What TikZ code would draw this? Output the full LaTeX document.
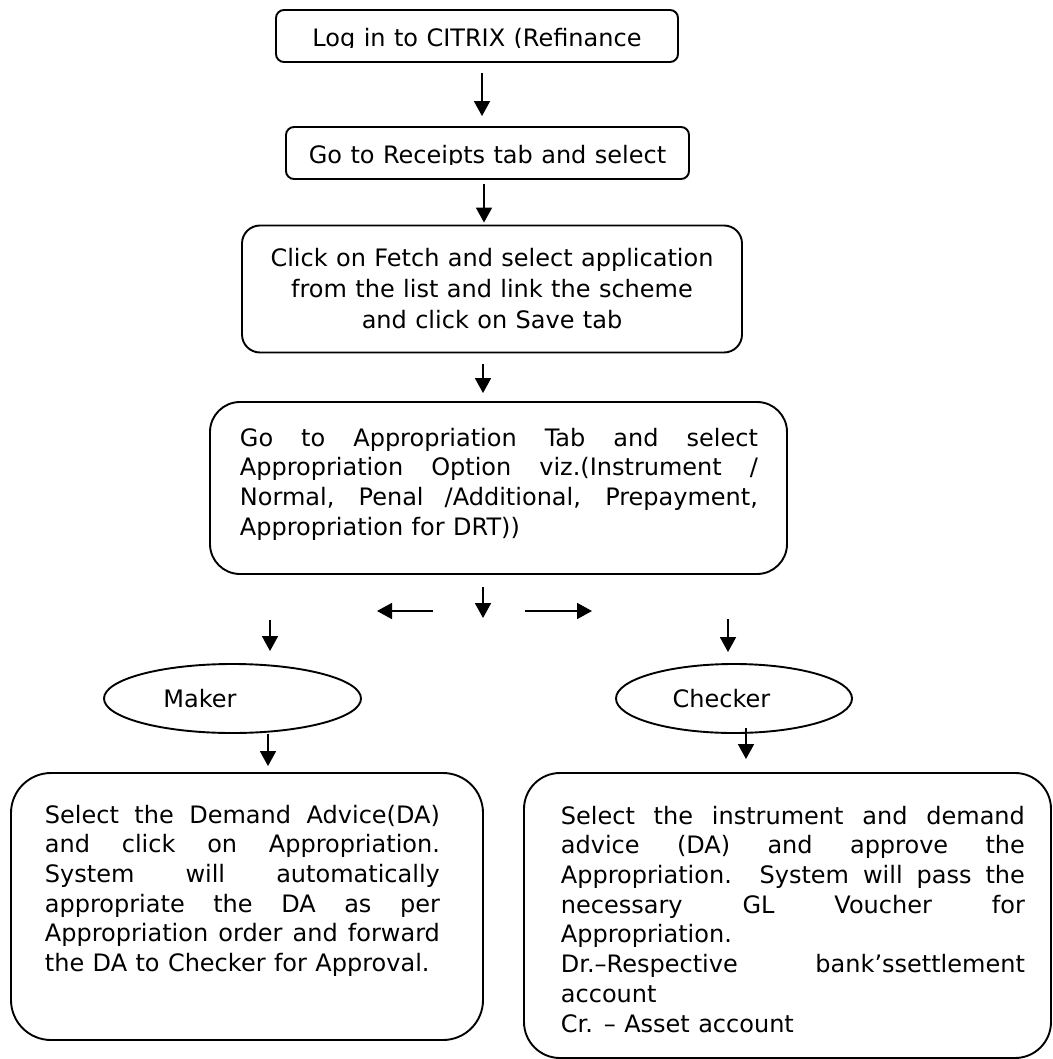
\documentclass[tikz,border=0pt]{standalone}
\usepackage{fontspec}
\setmainfont{DejaVu Sans}[WordSpace=1.1]
\usetikzlibrary{arrows.meta,shapes.geometric}

\begin{document}
\begin{tikzpicture}[x=1pt,y=-1pt,line width=1.8pt,
	block/.style ={rectangle, draw, line width=1.9pt, inner sep=0pt},
	txt/.style ={inner sep=0pt, font=\fontsize{24}{29.7}\selectfont},
	para/.style ={txt, anchor=north west, align=justify, execute at begin node={\tolerance=10000\hyphenpenalty=10000\exhyphenpenalty=10000\parindent=0pt}},
	role/.style ={ellipse, draw, line width=1.9pt, inner sep=0pt, minimum height=69pt, font=\fontsize{24}{29.7}\selectfont},
	arr/.style ={-{Triangle[length=15pt,width=16pt]}, line width=1.8pt}]
	\useasboundingbox (0,0) rectangle (1052,1059);
	\node[block,rounded corners=8pt,minimum width=402pt,minimum height=52pt] (login) at (477,36) {};
	\begin{scope}
		\clip (276,10) rectangle (678,47.5);
		\node[txt,anchor=base] (logintxt) at (477,47) {Log in to CITRIX (Refinance};
	\end{scope}
	\node[block,rounded corners=8pt,minimum width=403pt,minimum height=52pt] (receipts) at (487.5,153) {};
	\begin{scope}
		\clip (286,127) rectangle (689,164.5);
		\node[txt,anchor=base] (receiptstxt) at (487.5,164) {Go to Receipts tab and select};
	\end{scope}
	\node[block,rounded corners=18pt,minimum width=500pt,minimum height=127pt,align=center,font=\fontsize{24}{31}\selectfont] (fetch) at (492,289) {Click on Fetch and select application\\from the list and link the scheme\\and click on Save tab};
	\node[block,rounded corners=30pt,minimum width=577pt,minimum height=172pt] (appr) at (498.5,488) {};
	\node[para,text width=518pt] (apprtxt) at (239,427) {Go to Appropriation Tab and select\linebreak Appropriation Option viz.(Instrument /\linebreak Normal, Penal /Additional, Prepayment,\linebreak Appropriation for DRT))};
	\node[role,minimum width=257pt] (maker) at (232.5,698.5) {Maker\hspace*{65pt}};
	\node[role,minimum width=236pt] (checker) at (734,698.5) {Checker\hspace*{25pt}};
	\node[block,rounded corners=40pt,minimum width=472pt,minimum height=267pt] (makerbox) at (247,906.5) {};
	\node[para,text width=395pt] (makertxt) at (44,804) {Select the Demand Advice(DA)\linebreak and click on Appropriation.\linebreak System will automatically\linebreak appropriate the DA as per\linebreak Appropriation order and forward\linebreak the DA to Checker for Approval.};
	\node[block,rounded corners=36pt,minimum width=527pt,minimum height=285pt] (checkerbox) at (787.5,915.5) {};
	\node[para,text width=464pt] (checkertxt) at (560,805) {Select the instrument and demand\linebreak advice (DA) and approve the\linebreak Appropriation. System will pass the\linebreak necessary GL Voucher for\linebreak Appropriation.\par Dr.–Respective bank’ssettlement\linebreak account\par Cr. – Asset account};
	\coordinate (c1) at (482,0);
	\coordinate (c2) at (484,0);
	\coordinate (c3) at (483,0);
	\coordinate (split) at (483,618);
	\coordinate (lt) at (433,611);
	\coordinate (ltend) at (377,611);
	\coordinate (rt) at (525,611);
	\coordinate (rtend) at (592,611);
	\coordinate (mkin) at (270,620);
	\coordinate (ckin) at (728,619);
	\coordinate (mkout) at (268,0);
	\coordinate (ckout) at (746,0);
	\draw[arr,shorten <=10pt,shorten >=10pt] (login.south -| c1)--(receipts.north -| c1);
	\draw[arr,shorten <=4pt,shorten >=2pt] (receipts.south -| c2)--(fetch.north -| c2);
	\draw[arr,shorten <=11pt,shorten >=8pt] (fetch.south -| c3)--(appr.north -| c3);
	\draw[arr,shorten <=12pt] (appr.south -| split)--(split);
	\draw[arr] (lt)--(ltend);
	\draw[arr] (rt)--(rtend);
	\draw[arr,shorten >=12pt] (mkin)--(mkin |- maker.north);
	\draw[arr,shorten >=11pt] (ckin)--(ckin |- checker.north);
	\draw[arr,shorten >=6pt] (maker.south -| mkout)--(makerbox.north -| mkout);
	\draw[arr,shorten <=-6pt,shorten >=13pt] (checker.south -| ckout)--(checkerbox.north -| ckout);
\end{tikzpicture}
\end{document}
